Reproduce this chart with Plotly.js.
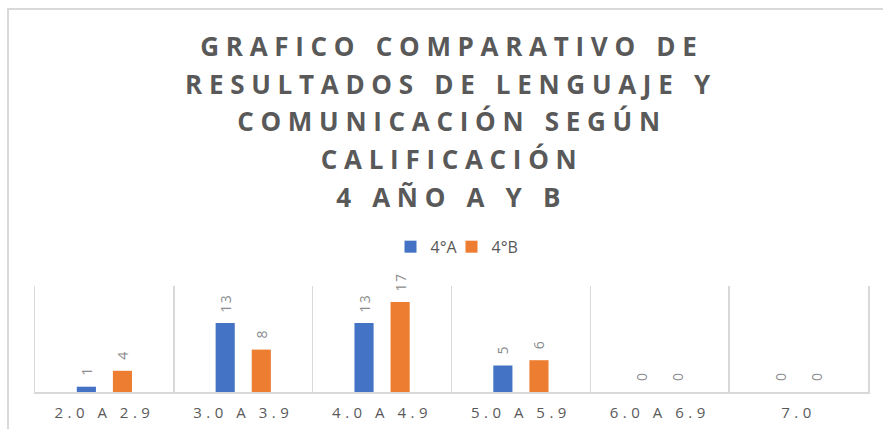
<!DOCTYPE html>
<html>
<head>
<meta charset="utf-8">
<script src="https://cdn.plot.ly/plotly-3.0.1.min.js"></script>
<style>
  body { margin: 0; background: #fff; }
  #chart { position: absolute; left: 0; top: 0; width: 883px; height: 429px; }
  #frame { position: absolute; left: 7px; top: 8px; width: 876px; height: 421px;
           border-top: 2px solid #d9d9d9; border-left: 2px solid #d9d9d9; pointer-events: none; }
  #chart .xtick text { letter-spacing: 4.5px; }
  #chart .annotation-text { letter-spacing: 6.7px; word-spacing: 1px; }
  #chart .bartext { letter-spacing: 1.5px; }
  #chart .legend .scrollbox { clip-path: none !important; }
</style>
</head>
<body>
<div id="chart"></div>
<div id="frame"></div>
<script>
// data
let categories = ['2.0 A 2.9', '3.0 A 3.9', '4.0 A 4.9', '5.0 A 5.9', '6.0 A 6.9', '7.0'];
let curso4A = [1, 13, 13, 5, 0, 0];
let curso4B = [4, 8, 17, 6, 0, 0];

let titleLines = [
    'GRAFICO COMPARATIVO DE',
    'RESULTADOS DE LENGUAJE Y',
    'COMUNICACIÓN SEGÚN',
    'CALIFICACIÓN',
    '4 AÑO A Y B'
];

let labelFont = { family: 'Open Sans', size: 14, color: '#8c8c8c' };

// nbsp in front pushes the rotated label up off the bar
function barLabels(vals) {
    return vals.map(function (v) { return '\u00a0\u00a0' + v; });
}

let trace1 = {
    x: categories,
    y: curso4A,
    type: 'bar',
    name: '4°A',
    marker: { color: '#4472c4' },
    text: barLabels(curso4A),
    textposition: 'outside',
    textangle: -90,
    textfont: labelFont,
    constraintext: 'none',
    cliponaxis: false,
    hoverinfo: 'skip'
};

let trace2 = {
    x: categories,
    y: curso4B,
    type: 'bar',
    name: '4°B',
    marker: { color: '#ed7d31' },
    text: barLabels(curso4B),
    textposition: 'outside',
    textangle: -90,
    textfont: labelFont,
    constraintext: 'none',
    cliponaxis: false,
    hoverinfo: 'skip'
};

// title drawn line by line so the spacing matches
let titleAnnotations = titleLines.map(function (line, i) {
    return {
        text: '<b>' + line + '</b>',
        xref: 'paper', yref: 'paper',
        x: 0.5, y: 1,
        xanchor: 'center', yanchor: 'middle',
        yshift: 286 - (46 + i * 37.7),
        showarrow: false,
        font: { family: 'Open Sans', size: 26, color: '#595959' }
    };
});

var layout = {
    width: 883,
    height: 429,
    margin: { l: 35, r: 15, t: 286, b: 37 },
    paper_bgcolor: '#fff',
    plot_bgcolor: '#fff',
    barmode: 'group',
    bargap: 0.48,
    bargroupgap: 0.47,
    showlegend: true,
    legend: {
        orientation: 'h',
        x: 0.5, xanchor: 'center',
        y: 1.37, yanchor: 'middle',
        entrywidth: 16,
        entrywidthmode: 'pixels',
        itemwidth: 30,
        font: { family: 'Open Sans', size: 16, color: '#595959' }
    },
    xaxis: {
        type: 'category',
        range: [-0.5, 5.5],
        tickson: 'boundaries',
        showgrid: true,
        gridcolor: '#d9d9d9',
        gridwidth: 1.5,
        showline: true,
        linecolor: '#d9d9d9',
        linewidth: 1.5,
        ticks: '',
        ticklabelstandoff: 6,
        tickfont: { family: 'Open Sans', size: 15, color: '#595959' },
        fixedrange: true
    },
    yaxis: {
        range: [0, 20],
        showgrid: false,
        zeroline: false,
        showline: true,
        mirror: true,
        linecolor: '#d9d9d9',
        linewidth: 1.5,
        showticklabels: false,
        ticks: '',
        fixedrange: true
    },
    annotations: titleAnnotations
};

Plotly.newPlot('chart', [trace1, trace2], layout, { displayModeBar: false, staticPlot: true });
</script>
</body>
</html>
